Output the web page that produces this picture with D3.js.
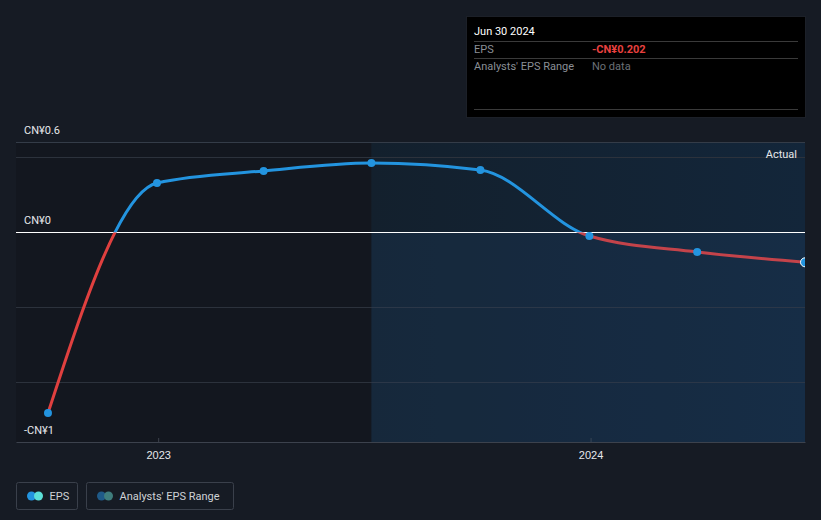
<!DOCTYPE html>
<html><head><meta charset="utf-8">
<script src="https://cdn.jsdelivr.net/npm/d3@7"></script>
<style>
html,body{margin:0;padding:0;background:#161b24;}
svg{display:block;font-family:Roboto,"Noto Sans",sans-serif;}
</style></head>
<body><svg id="c" width="821" height="520"></svg>
<script>
const dates = ["2022-09-30","2022-12-31","2023-03-31","2023-06-30","2023-09-30","2023-12-31","2024-03-31","2024-06-30"];
const eps = [-1.207, 0.327, 0.407, 0.46, 0.413, -0.027, -0.133, -0.202];
const yTickValues = [0.5, 0, -0.5, -1];
const yLabels = [{v:0.6, t:"CN¥0.6"},{v:0, t:"CN¥0"},{v:-1.4, t:"-CN¥1"}];
const xTickDates = ["2023-01-01","2024-01-01"];
const xTickLabels = ["2023","2024"];
const tooltipDate = "Jun 30 2024";
const tooltipValue = "-CN¥0.202";

const parse = d3.timeParse("%Y-%m-%d");
const data = dates.map((d,i)=>({date:parse(d), v:eps[i]}));
const svg = d3.select("#c");
const L=16, R=805, T=142, B=442;
const x = d3.scaleTime().domain([parse("2022-09-03"), parse("2024-06-30")]).range([L,R]);
const y = d3.scaleLinear().domain([-1.4,0.6]).range([B,T]);

const defs = svg.append("defs");
const g1 = defs.append("linearGradient").attr("id","fg").attr("x1","0").attr("x2","1").attr("y1","0").attr("y2","0");
g1.append("stop").attr("offset","0").attr("stop-color","#13202d");
g1.append("stop").attr("offset","1").attr("stop-color","#13263a");
defs.append("clipPath").attr("id","plot").append("rect").attr("x",0).attr("y",0).attr("width",R).attr("height",520);

const splitX = x(parse("2023-06-30"));
svg.append("rect").attr("x",L).attr("y",T).attr("width",splitX-L).attr("height",B-T).attr("fill","#13171f");
svg.append("rect").attr("x",splitX).attr("y",T).attr("width",R-splitX).attr("height",B-T).attr("fill","url(#fg)");

// gridlines
svg.append("g").selectAll("line").data(yTickValues.filter(v=>v!==0)).join("line")
  .attr("x1",L).attr("x2",R).attr("y1",d=>Math.round(y(d))+0.5).attr("y2",d=>Math.round(y(d))+0.5)
  .attr("stroke","#2c323c").attr("stroke-width",1);
svg.append("line").attr("x1",L).attr("x2",R).attr("y1",y(0.6)+0.5).attr("y2",y(0.6)+0.5).attr("stroke","#343c48");

// x axis
const xa = svg.append("g").attr("transform",`translate(0,${B})`)
  .call(d3.axisBottom(x).tickValues(xTickDates.map(parse)).tickFormat((d,i)=>xTickLabels[i]).tickSize(4).tickSizeOuter(0));
xa.select(".domain").attr("stroke","#3c424d");
xa.selectAll(".tick line").attr("stroke","#3c424d").attr("transform","translate(0,-4)");
xa.selectAll(".tick text").attr("fill","#e6e8eb").attr("font-size",11).attr("dy","0.9em");

// zero line
svg.append("line").attr("x1",L).attr("x2",R).attr("y1",y(0)+0.5).attr("y2",y(0)+0.5).attr("stroke","#ffffff").attr("stroke-width",1);

// y labels
svg.append("g").selectAll("text").data(yLabels).join("text")
  .attr("x",24).attr("y",d=>y(d.v)-8).attr("fill","#e6e8eb").attr("font-size",11).text(d=>d.t);

// line with clip
const line = d3.line().x(d=>x(d.date)).y(d=>y(d.v)).curve(d3.curveMonotoneX);
defs.append("clipPath").attr("id","above").append("rect").attr("x",0).attr("y",0).attr("width",821).attr("height",y(0)+0.5);
defs.append("clipPath").attr("id","below").append("rect").attr("x",0).attr("y",y(0)+0.5).attr("width",821).attr("height",520-y(0));
svg.append("path").datum(data).attr("d",line).attr("fill","none").attr("stroke","#2394df").attr("stroke-width",3).attr("clip-path","url(#above)");
svg.append("path").datum(data).attr("d",line).attr("fill","none").attr("stroke","#e0403f").attr("stroke-width",3).attr("clip-path","url(#below)");
svg.append("rect").attr("x",splitX).attr("y",y(0)+1).attr("width",R-splitX).attr("height",B-y(0)-1).attr("fill","#2a5a8c").attr("opacity",0.15);

svg.append("g").attr("clip-path","url(#plot)").selectAll("circle").data(data).join("circle")
  .attr("cx",d=>x(d.date)).attr("cy",d=>y(d.v)).attr("r",(d,i)=>i===data.length-1?4.5:4)
  .attr("fill","#2394df").attr("stroke",(d,i)=>i===data.length-1?"#ffffff":"none").attr("stroke-width",1);

svg.append("text").attr("x",797).attr("y",158).attr("text-anchor","end").attr("fill","#e6e8eb").attr("font-size",11).text("Actual");

// tooltip
const tt = svg.append("g");
tt.append("rect").attr("x",466.5).attr("y",16.5).attr("width",339).attr("height",101).attr("fill","#000").attr("stroke","#1c2028");
tt.append("text").attr("x",474).attr("y",35).attr("fill","#fff").attr("font-size",11).text(tooltipDate);
[41,58,109].forEach(yy=>tt.append("line").attr("x1",474).attr("x2",798).attr("y1",yy+0.5).attr("y2",yy+0.5).attr("stroke","#3a3a3a"));
tt.append("text").attr("x",474).attr("y",53).attr("fill","#8a8f96").attr("font-size",11).text("EPS");
tt.append("text").attr("x",592).attr("y",53).attr("fill","#e8403f").attr("font-size",11).attr("font-weight","bold").text(tooltipValue);
tt.append("text").attr("x",474).attr("y",70).attr("fill","#8a8f96").attr("font-size",11).text("Analysts' EPS Range");
tt.append("text").attr("x",592).attr("y",70).attr("fill","#6b7077").attr("font-size",11).text("No data");

// legend
const leg = svg.append("g");
const items = [{x:16.5,w:61,label:"EPS",c1:"#2394df",c2:"#5ce0d8"},{x:86.5,w:147,label:"Analysts' EPS Range",c1:"#1f5a88",c2:"#3f7d7d"}];
items.forEach(it=>{
  leg.append("rect").attr("x",it.x).attr("y",482.5).attr("width",it.w).attr("height",27).attr("rx",2).attr("fill","none").attr("stroke","#3a404b");
  leg.append("circle").attr("cx",it.x+15).attr("cy",496).attr("r",4.5).attr("fill",it.c1);
  leg.append("circle").attr("cx",it.x+22).attr("cy",496).attr("r",4.5).attr("fill",it.c2);
  leg.append("text").attr("x",it.x+33).attr("y",500).attr("fill","#cfd2d6").attr("font-size",11).text(it.label);
});
</script></body></html>
